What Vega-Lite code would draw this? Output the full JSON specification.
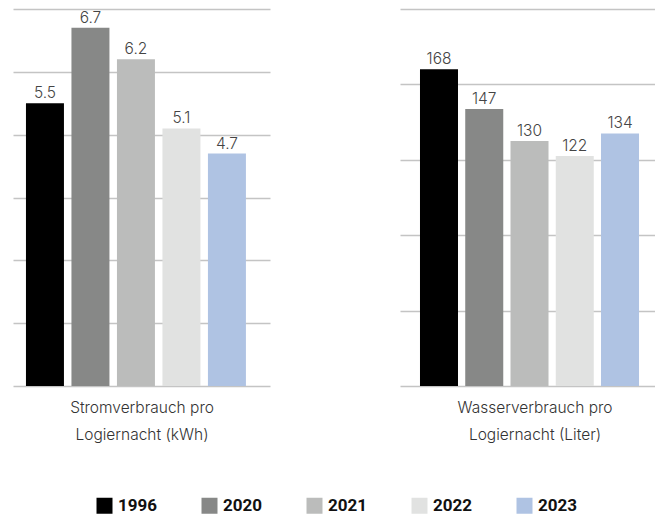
{
  "$schema": "https://vega.github.io/schema/vega-lite/v6.json",
  "padding": {"left": 13, "top": 9, "right": 0, "bottom": 0},
  "background": "white",
  "spacing": 130,
  "config": {
    "view": {"stroke": null},
    "font": "Roboto",
    "axis": {"gridColor": "#c4c4c4", "gridWidth": 1.3, "gridOpacity": 1}
  },
  "datasets": {
    "strom": [
      {"year": "1996", "value": 5.5, "label": "5.5"},
      {"year": "2020", "value": 6.7, "label": "6.7"},
      {"year": "2021", "value": 6.2, "label": "6.2"},
      {"year": "2022", "value": 5.1, "label": "5.1"},
      {"year": "2023", "value": 4.7, "label": "4.7"}
    ],
    "wasser": [
      {"year": "1996", "value": 168, "label": "168"},
      {"year": "2020", "value": 147, "label": "147"},
      {"year": "2021", "value": 130, "label": "130"},
      {"year": "2022", "value": 122, "label": "122"},
      {"year": "2023", "value": 134, "label": "134"}
    ]
  },
  "hconcat": [
    {
      "width": 257,
      "height": 377,
      "data": {"name": "strom"},
      "encoding": {
        "x": {
          "field": "year", "type": "nominal",
          "scale": {"paddingInner": 0.165, "paddingOuter": 0.407, "align": 0.35},
          "axis": {
            "labels": false, "ticks": false, "domain": false,
            "title": ["Stromverbrauch pro", "Logiernacht (kWh)"],
            "titleFont": "Inter", "titleFontSize": 15.5, "titleFontWeight": 300, "titleColor": "#333333",
            "titlePadding": 14, "titleLineHeight": 27
          }
        },
        "y": {
          "field": "value", "type": "quantitative",
          "scale": {"domain": [1, 7], "nice": false, "zero": false},
          "axis": {
            "values": [1, 2, 3, 4, 5, 6, 7],
            "labels": false, "ticks": false, "domain": false, "grid": true, "title": null
          }
        }
      },
      "layer": [
        {
          "mark": {"type": "bar"},
          "encoding": {
            "y2": {"datum": 1},
            "color": {
              "field": "year", "type": "nominal",
              "scale": {
                "domain": ["1996", "2020", "2021", "2022", "2023"],
                "range": ["#000000", "#878887", "#bbbcbb", "#e1e2e1", "#afc3e3"]
              },
              "legend": {
                "title": null, "orient": "none", "direction": "horizontal",
                "legendX": 83, "legendY": 488,
                "symbolType": "square", "symbolSize": 256, "symbolStrokeWidth": 0,
                "symbolOpacity": 1,
                "labelFontSize": 17, "labelFontWeight": "bold", "labelColor": "#111111",
                "labelOffset": 5, "columnPadding": 43, "labelLimit": 200
              }
            }
          }
        },
        {
          "mark": {"type": "text", "baseline": "alphabetic", "dy": -5, "font": "Inter", "fontSize": 15.5, "fontWeight": 300, "color": "#444444"},
          "encoding": {"text": {"field": "label"}}
        }
      ]
    },
    {
      "width": 269,
      "height": 377,
      "data": {"name": "wasser"},
      "encoding": {
        "x": {
          "field": "year", "type": "nominal",
          "scale": {"paddingInner": 0.16, "paddingOuter": 0.552, "align": 0.4},
          "axis": {
            "labels": false, "ticks": false, "domain": false,
            "title": ["Wasserverbrauch pro", "Logiernacht (Liter)"],
            "titleFont": "Inter", "titleFontSize": 15.5, "titleFontWeight": 300, "titleColor": "#333333",
            "titlePadding": 14, "titleLineHeight": 27
          }
        },
        "y": {
          "field": "value", "type": "quantitative",
          "scale": {"domain": [0, 200], "nice": false},
          "axis": {
            "values": [0, 40, 80, 120, 160, 200],
            "labels": false, "ticks": false, "domain": false, "grid": true, "title": null
          }
        }
      },
      "layer": [
        {
          "mark": {"type": "bar"},
          "encoding": {
            "color": {"field": "year", "type": "nominal"}
          }
        },
        {
          "mark": {"type": "text", "baseline": "alphabetic", "dy": -5, "font": "Inter", "fontSize": 15.5, "fontWeight": 300, "color": "#444444"},
          "encoding": {"text": {"field": "label"}}
        }
      ]
    }
  ],
  "resolve": {"scale": {"color": "shared", "y": "independent", "x": "independent"}}
}
